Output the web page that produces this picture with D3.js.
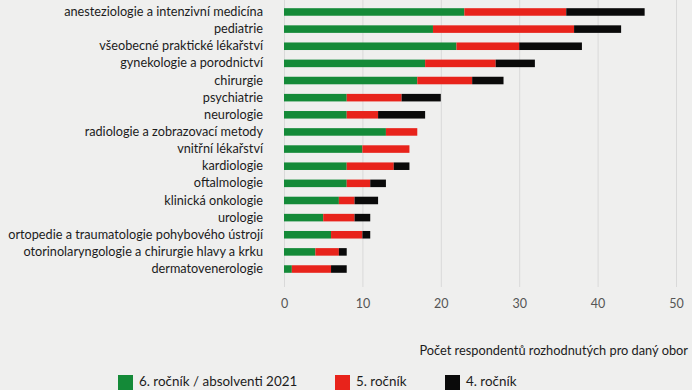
<!DOCTYPE html>
<html lang="cs">
<head>
    <meta charset="UTF-8">
    <title>Počet respondentů rozhodnutých pro daný obor</title>
    <script src="https://cdnjs.cloudflare.com/ajax/libs/d3/7.8.5/d3.min.js"></script>
    <style>
        body {
            margin: 0;
            background-color: #efefee;
            font-family: Lato, "Open Sans", sans-serif;
        }
        svg { display: block; }
        .cat text { font-size: 12.7px; fill: #1c1c1c; }
        .xaxis text { font-size: 12.5px; fill: #555; }
        .xaxis line { stroke: #d9d9d9; }
        .legend text { font-size: 13.4px; fill: #1c1c1c; }
    </style>
</head>
<body>
    <div id="chart"></div>

    <script>
        // obory
        const categories = [
            "anesteziologie a intenzivní medicína",
            "pediatrie",
            "všeobecné praktické lékařství",
            "gynekologie a porodnictví",
            "chirurgie",
            "psychiatrie",
            "neurologie",
            "radiologie a zobrazovací metody",
            "vnitřní lékařství",
            "kardiologie",
            "oftalmologie",
            "klinická onkologie",
            "urologie",
            "ortopedie a traumatologie pohybového ústrojí",
            "otorinolaryngologie a chirurgie hlavy a krku",
            "dermatovenerologie"
        ];

        // hodnoty po ročnících
        const rocnik6 = [23, 19, 22, 18, 17, 8, 8, 13, 10, 8, 8, 7, 5, 6, 4, 1];
        const rocnik5 = [13, 18, 8, 9, 7, 7, 4, 4, 6, 6, 3, 2, 4, 4, 3, 5];
        const rocnik4 = [10, 6, 8, 5, 4, 5, 6, 0, 0, 2, 2, 3, 2, 1, 1, 2];

        const seriesNames = ["6. ročník / absolventi 2021", "5. ročník", "4. ročník"];
        const seriesKeys = ["r6", "r5", "r4"];
        const colors = ["#148a38", "#e8231b", "#0a0a0a"];
        const xTicks = [0, 10, 20, 30, 40, 50];

        const width = 692, height = 390;
        const x0 = 284, x1 = 676;
        const axisY = 287;

        const rows = categories.map((c, i) => ({
            name: c, r6: rocnik6[i], r5: rocnik5[i], r4: rocnik4[i]
        }));

        const svg = d3.select("#chart")
            .append("svg")
            .attr("width", width)
            .attr("height", height);

        const x = d3.scaleLinear().domain([0, 50]).range([x0, x1]);
        const y = d3.scaleBand()
            .domain(categories)
            .range([3.4, 277.6])
            .paddingInner(0.56)
            .paddingOuter(0.28);

        // gridlines + tick labels
        svg.append("g")
            .attr("class", "xaxis")
            .attr("transform", `translate(0,${axisY})`)
            .call(d3.axisBottom(x).tickValues(xTicks).tickSize(-axisY).tickPadding(12))
            .call(g => g.select(".domain").remove());

        // stacked bars
        const stack = d3.stack().keys(seriesKeys)(rows);

        svg.append("g")
            .selectAll("g")
            .data(stack)
            .join("g")
            .attr("fill", (d, i) => colors[i])
            .selectAll("rect")
            .data(d => d)
            .join("rect")
            .attr("x", d => x(d[0]))
            .attr("y", d => y(d.data.name))
            .attr("width", d => x(d[1]) - x(d[0]))
            .attr("height", y.bandwidth());

        // category labels
        svg.append("g")
            .attr("class", "cat")
            .attr("transform", `translate(${x0},0)`)
            .call(d3.axisLeft(y).tickSize(0).tickPadding(21))
            .call(g => g.select(".domain").remove());

        svg.select(".cat").attr("font-family", null).attr("font-size", null);
        svg.select(".xaxis").attr("font-family", null).attr("font-size", null);

        // axis title
        svg.append("text")
            .attr("x", 688)
            .attr("y", 355)
            .attr("text-anchor", "end")
            .attr("font-size", 12.8)
            .attr("fill", "#1c1c1c")
            .text("Počet respondentů rozhodnutých pro daný obor");

        // legend
        const legendX = [118, 335, 445];
        const legend = svg.append("g").attr("class", "legend")
            .selectAll("g")
            .data(seriesNames)
            .join("g")
            .attr("transform", (d, i) => `translate(${legendX[i]},375)`);

        legend.append("rect")
            .attr("width", 15)
            .attr("height", 15)
            .attr("fill", (d, i) => colors[i]);

        legend.append("text")
            .attr("x", 21)
            .attr("y", 11)
            .text(d => d);
    </script>
</body>
</html>
